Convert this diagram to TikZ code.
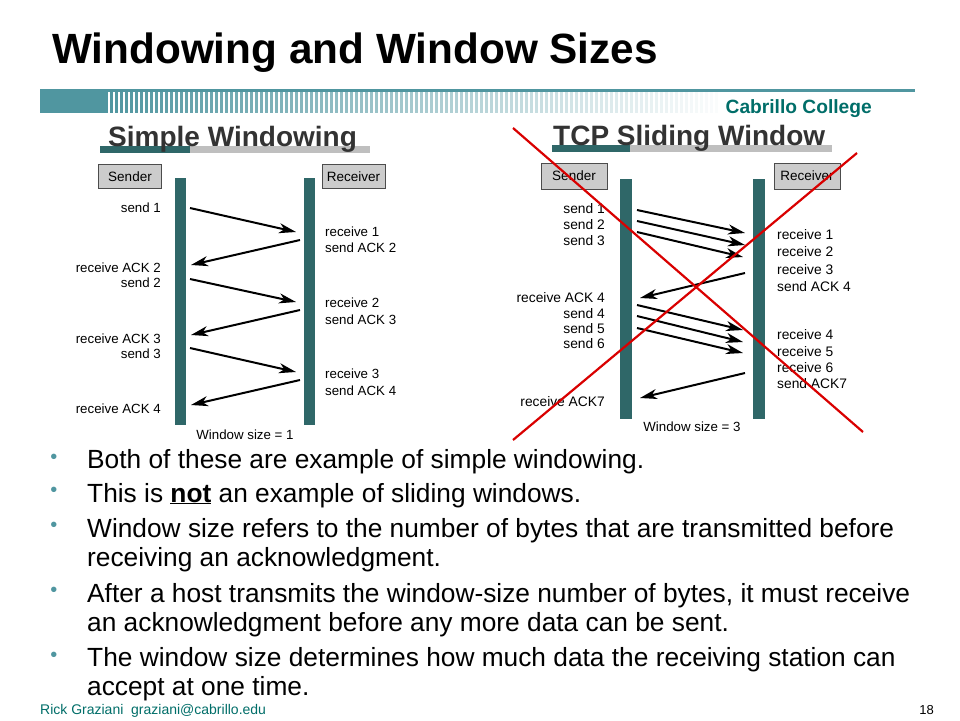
\documentclass[tikz,border=0pt]{standalone}
\usepackage{fontspec}
\setmainfont{Liberation Sans}
\usetikzlibrary{arrows.meta}
\definecolor{teal1}{RGB}{47,103,104}
\definecolor{teal2}{RGB}{80,150,160}
\definecolor{cc}{RGB}{0,110,105}
\begin{document}
\begin{tikzpicture}[x=1pt,y=-1pt,
  lab/.style={inner sep=0pt,font=\fontsize{13.3}{14}\selectfont},
  llab/.style={lab,anchor=east},
  rlab/.style={lab,anchor=west},
  hbox/.style={draw=black!70,fill=black!20,minimum width=63pt,minimum height=24pt,inner sep=0pt,font=\fontsize{13.5}{14}\selectfont},
  vbar/.style={fill=teal1},
  msg/.style={-{Stealth[length=17pt,width=10pt,inset=5pt]},line width=2pt},
  bul/.style={inner sep=0pt,anchor=base west,font=\fontsize{26.3}{29}\selectfont},
  dot/.style={inner sep=0pt,anchor=base,text=teal2,font=\fontsize{20}{20}\selectfont}]
\useasboundingbox (0,0) rectangle (960,720);
\fill[white] (0,0) rectangle (960,720);
% title
\node[anchor=base west,inner sep=0pt,font=\bfseries\fontsize{42.3}{44}\selectfont] (title) at (52,63) {Windowing and Window Sizes};
% header band
\fill[teal2] (40,89) rectangle (915,92);
\fill[teal2] (40,92) rectangle (105,113);
\foreach \i in {0,...,122}{
  \pgfmathsetmacro\op{max(0,1-\i/125)}
  \fill[teal2,opacity=\op] (105+\i*5,92) rectangle (107.5+\i*5,113);
}
\node[anchor=base east,inner sep=0pt,text=cc,font=\bfseries\fontsize{19.2}{20}\selectfont] (cab) at (872,113) {Cabrillo College};
% subtitles
\fill[black!25] (100,146) rectangle (370,153);
\fill[teal1] (100,146) rectangle (190,153);
\node[anchor=base west,inner sep=0pt,text=black!80,font=\bfseries\fontsize{28}{30}\selectfont] (st1) at (108,146) {Simple Windowing};
\fill[black!25] (552,145) rectangle (832,152);
\fill[teal1] (552,145) rectangle (630,152);
\node[anchor=base west,inner sep=0pt,text=black!80,font=\bfseries\fontsize{28}{30}\selectfont] (st2) at (553,145) {TCP Sliding Window};
% left diagram
\node[hbox] (s1) at (130,176.5) {Sender};
\node[hbox] (r1) at (353.5,176.5) {Receiver};
\fill[vbar] (175,178) rectangle (186,425);
\fill[vbar] (304,178) rectangle (315,425);
\coordinate (a1) at (190,208); \coordinate (b1) at (296,232);
\coordinate (a2) at (300,240); \coordinate (b2) at (191,265);
\coordinate (a3) at (190,279); \coordinate (b3) at (296,302);
\coordinate (a4) at (300,310); \coordinate (b4) at (191,335);
\coordinate (a5) at (190,348); \coordinate (b5) at (296,372);
\coordinate (a6) at (300,380); \coordinate (b6) at (191,405);
\foreach \k in {1,...,6}{\draw[msg] (a\k) -- (b\k);}
\node[llab] (l1) at (161,208) {send 1};
\node[llab] (l2) at (161,268) {receive ACK 2};
\node[llab] (l3) at (161,283) {send 2};
\node[llab] (l4) at (161,339) {receive ACK 3};
\node[llab] (l5) at (161,354) {send 3};
\node[llab] (l6) at (161,409) {receive ACK 4};
\node[rlab] (m1) at (325,232) {receive 1};
\node[rlab] (m2) at (325,248) {send ACK 2};
\node[rlab] (m3) at (325,303) {receive 2};
\node[rlab] (m4) at (325,320) {send ACK 3};
\node[rlab] (m5) at (325,374) {receive 3};
\node[rlab] (m6) at (325,391) {send ACK 4};
\node[lab] (w1) at (245,435) {Window size = 1};
% right diagram
\node[hbox,minimum width=66pt,minimum height=26pt] (s2) at (574,176) {Sender};
\node[hbox,minimum width=66pt,minimum height=26pt] (r2) at (807,176) {Receiver};
\fill[vbar] (620,179) rectangle (632,419);
\fill[vbar] (753,179) rectangle (765,419);
\coordinate (c1) at (637,210); \coordinate (d1) at (745,233);
\coordinate (c2) at (637,221); \coordinate (d2) at (745,245);
\coordinate (c3) at (637,232); \coordinate (d3) at (743,257);
\coordinate (c4) at (745,273); \coordinate (d4) at (640,298);
\coordinate (c5) at (637,305); \coordinate (d5) at (743,330);
\coordinate (c6) at (637,316); \coordinate (d6) at (743,342);
\coordinate (c7) at (637,328); \coordinate (d7) at (743,353);
\coordinate (c8) at (745,373); \coordinate (d8) at (640,398);
\foreach \k in {1,...,8}{\draw[msg] (c\k) -- (d\k);}
\node[llab,font=\fontsize{13.8}{14}\selectfont] (n1) at (605,209) {send 1};
\node[llab,font=\fontsize{13.8}{14}\selectfont] (n2) at (605,225) {send 2};
\node[llab,font=\fontsize{13.8}{14}\selectfont] (n3) at (605,241) {send 3};
\node[llab,font=\fontsize{13.8}{14}\selectfont] (n4) at (605,298) {receive ACK 4};
\node[llab,font=\fontsize{13.8}{14}\selectfont] (n5) at (605,314) {send 4};
\node[llab,font=\fontsize{13.8}{14}\selectfont] (n6) at (605,329) {send 5};
\node[llab,font=\fontsize{13.8}{14}\selectfont] (n7) at (605,344) {send 6};
\node[llab,font=\fontsize{13.8}{14}\selectfont] (n8) at (605,402) {receive ACK7};
\node[rlab,font=\fontsize{13.8}{14}\selectfont] (o1) at (777,235) {receive 1};
\node[rlab,font=\fontsize{13.8}{14}\selectfont] (o2) at (777,252) {receive 2};
\node[rlab,font=\fontsize{13.8}{14}\selectfont] (o3) at (777,270) {receive 3};
\node[rlab,font=\fontsize{13.8}{14}\selectfont] (o4) at (777,287) {send ACK 4};
\node[rlab,font=\fontsize{13.8}{14}\selectfont] (o5) at (777,335) {receive 4};
\node[rlab,font=\fontsize{13.8}{14}\selectfont] (o6) at (777,352) {receive 5};
\node[rlab,font=\fontsize{13.8}{14}\selectfont] (o7) at (777,368) {receive 6};
\node[rlab,font=\fontsize{13.8}{14}\selectfont] (o8) at (777,384) {send ACK7};
\node[lab] (w2) at (692,427) {Window size = 3};
% red X
\coordinate (x1) at (513,128); \coordinate (x2) at (863,432);
\coordinate (x3) at (857,153); \coordinate (x4) at (513,440);
\draw[red!85!black,line width=2.2pt] (x1) -- (x2);
\draw[red!85!black,line width=2.2pt] (x3) -- (x4);
% bullets
\foreach \y in {463,496,531,596,661}{\node[dot] at (54,\y) {•};}
\node[bul] (t1) at (87,468) {Both of these are example of simple windowing.};
\node[bul] (t2) at (87,502) {This is \textbf{\underline{not}} an example of sliding windows.};
\node[bul] (t3) at (87,537) {Window size refers to the number of bytes that are transmitted before};
\node[bul] (t3b) at (87,566) {receiving an acknowledgment.};
\node[bul] (t4) at (87,602) {After a host transmits the window-size number of bytes, it must receive};
\node[bul] (t4b) at (87,631) {an acknowledgment before any more data can be sent.};
\node[bul] (t5) at (87,666) {The window size determines how much data the receiving station can};
\node[bul] (t5b) at (87,695) {accept at one time.};
% footer
\node[anchor=base west,inner sep=0pt,text=cc,font=\fontsize{14}{15}\selectfont] (f1) at (40,714) {Rick Graziani\ \ graziani@cabrillo.edu};
\node[anchor=base east,inner sep=0pt,font=\fontsize{13}{14}\selectfont] (f2) at (934,714) {18};
\end{tikzpicture}
\end{document}
